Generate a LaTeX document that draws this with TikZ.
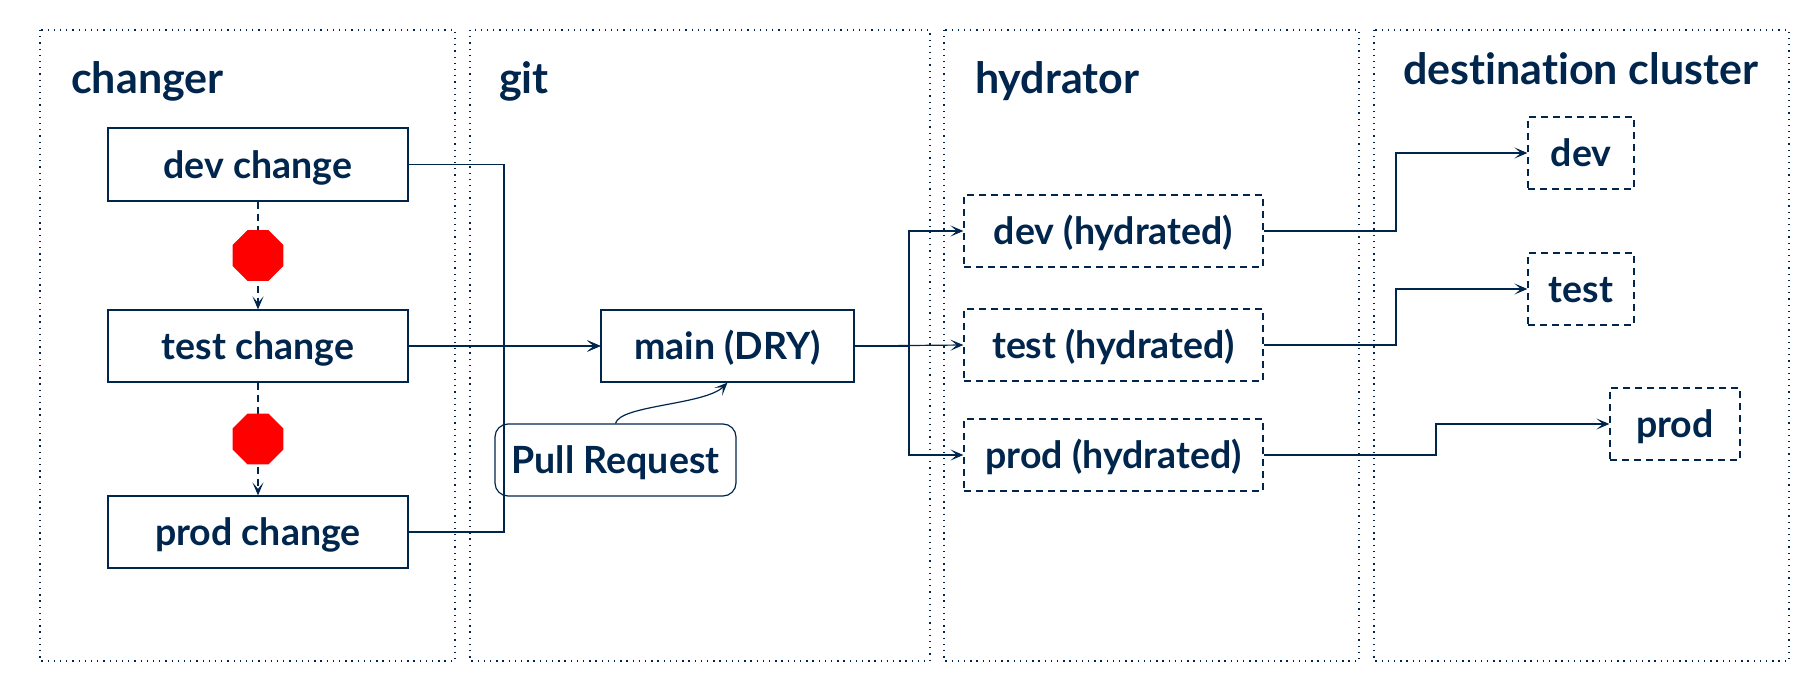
\documentclass[tikz,border=0pt]{standalone}
\usepackage{fontspec}
\setmainfont{Lato}[Ligatures=NoCommon,UprightFont=* Bold,BoldFont=* Bold]
\usetikzlibrary{arrows.meta,shapes.geometric}
\definecolor{navy}{HTML}{00264D}
\newcommand{\bx}[7]{\node[#1,minimum width=#4-#3,minimum height=#6-#5] (#2) at ({(#3+#4)/2},{(#5+#6)/2}) {#7};}
\tikzset{
  x=1pt,y=-1pt,
  panel/.style={draw=navy,line width=1.1pt,dash pattern=on 1.3pt off 4.9pt},
  base/.style={draw=navy,line width=1.2pt,text=navy,inner sep=0pt,font=\fontsize{37.5}{37.5}\selectfont,text height=33pt,text depth=6pt},
  solidbox/.style={base},
  dashbox/.style={base,dash pattern=on 7pt off 5pt},
  prbox/.style={base,rounded corners=13pt},
  title/.style={text=navy,inner sep=0pt,anchor=base west,font=\fontsize{43}{43}\selectfont},
  conn/.style={draw=navy,line width=1.2pt},
  arr/.style={conn,-{Stealth[length=13pt,width=11pt,inset=6.5pt]}},
  darr/.style={arr,dash pattern=on 7pt off 5pt},
  stopsign/.style={regular polygon,regular polygon sides=8,fill=red,draw=none,minimum size=55pt,inner sep=0pt},
}
\begin{document}
\begin{tikzpicture}
\useasboundingbox (0,0) rectangle (1820,690);
\fill[white] (0,0) rectangle (1820,690);
% panels
\draw[panel] (40,30) rectangle (455,661);
\draw[panel] (470,30) rectangle (930,661);
\draw[panel] (944,30) rectangle (1359,661);
\draw[panel] (1374,30) rectangle (1789,661);
% titles
\node[title] (tchanger) at (71,94) {changer};
\node[title] (tgit) at (499,94) {git};
\node[title] (thydrator) at (975,94) {hydrator};
\node[title] (tdest) at (1403,85) {destination cluster};
% changer boxes
\bx{solidbox}{cdev}{108}{408}{128}{201}{dev change}
\bx{solidbox}{ctest}{108}{408}{310}{382}{test change}
\bx{solidbox}{cprod}{108}{408}{496}{568}{prod change}
% git
\bx{solidbox}{main}{601}{854}{310}{382}{main (DRY)}
\bx{prbox}{pr}{495}{736}{424}{496}{Pull Request}
% hydrator
\bx{dashbox}{hdev}{964}{1263}{195}{267}{dev (hydrated)}
\bx{dashbox}{htest}{964}{1263}{309}{381}{test (hydrated)}
\bx{dashbox}{hprod}{964}{1263}{419}{491}{prod (hydrated)}
% destination
\bx{dashbox}{ddev}{1528}{1634}{117}{189}{dev}
\bx{dashbox}{dtest}{1528}{1634}{253}{325}{test}
\bx{dashbox}{dprod}{1610}{1740}{388}{460}{prod}
% junctions
\coordinate (busa) at (504,346);
\coordinate (busb) at (909,346);
\coordinate (ja) at (1396,231);
\coordinate (jb) at (1396,345);
\coordinate (jc) at (1436,455);
% connectors
\draw[darr] (cdev.south) -- (ctest.north);
\draw[darr] (ctest.south) -- (cprod.north);
\node[stopsign] (stopa) at (258,255.5) {};
\node[stopsign] (stopb) at (258,439) {};
\draw[arr] (cdev.east) -| (busa) -- (main.west);
\draw[arr] (cprod.east) -| (busa) -- (main.west);
\draw[arr] (ctest.east) -- (main.west);
\draw[arr] (main.east) -- (htest.west);
\draw[arr] (main.east) -- (busb) |- (hdev.west);
\draw[arr] (main.east) -- (busb) |- (hprod.west);
\draw[arr] (pr.north) .. controls (620,405) and (705,405) .. (main.south);
\draw[arr] (hdev.east) -- (ja) |- (ddev.west);
\draw[arr] (htest.east) -- (jb) |- (dtest.west);
\draw[arr] (hprod.east) -- (jc) |- (dprod.west);
\end{tikzpicture}
\end{document}
